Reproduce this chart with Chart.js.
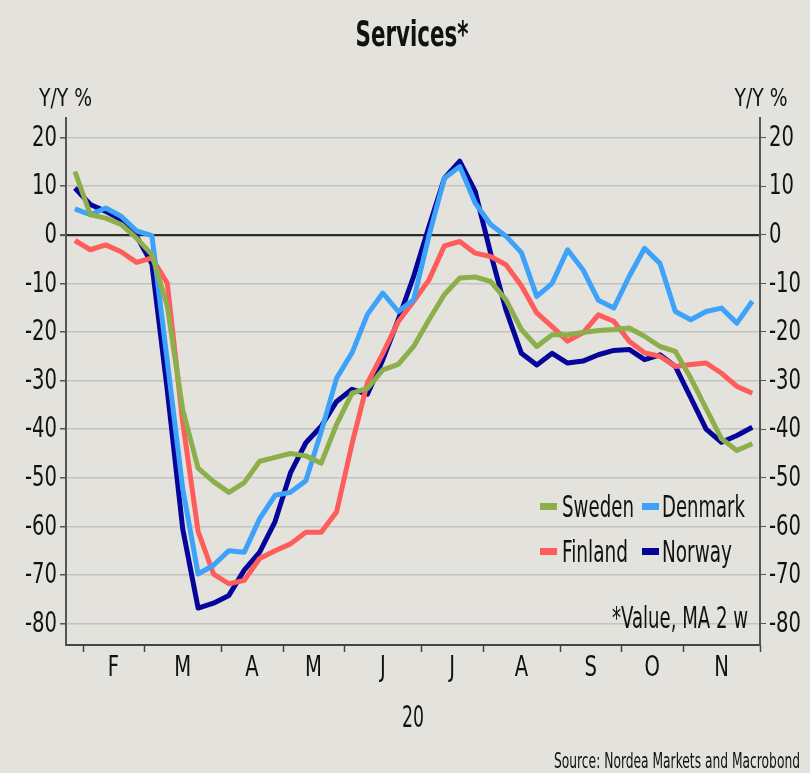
<!DOCTYPE html>
<html><head><meta charset="utf-8">
<script src="https://cdn.jsdelivr.net/npm/chart.js@4.4.1/dist/chart.umd.min.js"></script>
<style>html,body{margin:0;padding:0;background:#E3E2DD;}canvas{display:block}</style>
</head><body>
<canvas id="c" width="810" height="773"></canvas>
<script>
const FONT = "'Liberation Sans Narrow','DejaVu Sans Condensed','Roboto Condensed','Liberation Sans',sans-serif";

// x positions: week index (weekly data, late Jan 2020 .. late Nov 2020)
const monthLabels = ['F','M','A','M','J','J','A','S','O','N'];
const monthBounds = [0.5, 4.5, 9.5, 13.5, 17.5, 22.5, 26.5, 31.5, 35.5, 39.5, 44.5];
const yTicks = [20, 10, 0, -10, -20, -30, -40, -50, -60, -70, -80];

const sweden  = [13.0, 4.1, 3.4, 2.1, -0.7, -4.1, -14.7, -36.0, -48.0, -50.8, -53.0, -51.0, -46.6, -45.8, -45.0,
                 -45.5, -47.0, -39.0, -32.6, -31.6, -27.8, -26.7, -23.0, -17.5, -12.3, -8.9, -8.7, -9.6, -13.4, -19.5,
                 -23.0, -20.6, -20.6, -20.1, -19.7, -19.5, -19.2, -20.9, -23.0, -24.0, -29.5, -35.8, -42.0, -44.4, -43.0];
const denmark = [5.3, 4.1, 5.5, 3.8, 0.8, -0.2, -26.0, -52.2, -69.8, -68.0, -65.0, -65.3, -58.4, -53.6, -53.0,
                 -50.6, -40.5, -29.5, -24.3, -16.4, -12.0, -15.8, -13.4, -0.2, 11.6, 14.0, 6.5, 2.1, -0.3, -3.7,
                 -12.7, -10.0, -3.1, -7.2, -13.5, -15.1, -8.6, -2.8, -5.9, -15.8, -17.5, -15.8, -15.1, -18.2, -13.7];
const finland = [-1.2, -3.1, -2.1, -3.5, -5.7, -4.8, -10.0, -38.5, -61.0, -69.8, -71.8, -71.1, -66.6, -65.0, -63.6,
                 -61.2, -61.2, -57.0, -43.0, -30.5, -24.4, -17.9, -13.7, -9.3, -2.3, -1.4, -3.8, -4.5, -6.2, -10.5,
                 -16.1, -18.9, -21.9, -20.2, -16.5, -17.8, -21.9, -24.3, -25.0, -27.1, -26.7, -26.4, -28.5, -31.2, -32.6];
const norway  = [9.6, 6.2, 4.8, 3.1, -0.3, -6.0, -32.0, -60.5, -76.8, -75.8, -74.2, -69.0, -65.3, -59.0, -49.0,
                 -42.8, -39.4, -34.3, -31.8, -32.8, -25.7, -17.5, -8.6, 1.7, 11.6, 15.1, 8.9, -3.8, -15.5, -24.4,
                 -26.8, -24.4, -26.4, -26.0, -24.7, -23.8, -23.6, -25.7, -24.7, -27.1, -33.5, -40.0, -42.7, -41.3, -39.6];

const seriesNames = ['Sweden', 'Denmark', 'Finland', 'Norway'];
const seriesColors = ['#8CAF4B', '#3DA2FA', '#FF5C5C', '#05059A'];
const seriesData = [sweden, denmark, finland, norway];

const monthMids = monthLabels.map((m, k) => (monthBounds[k] + monthBounds[k + 1]) / 2);

function fitText(ctx, text, x, y, size, weight, width, align) {
  ctx.save();
  ctx.font = weight + ' ' + size + 'px ' + FONT;
  const w = ctx.measureText(text).width;
  ctx.translate(x, y);
  ctx.scale(width / w, 1);
  ctx.textAlign = align;
  ctx.textBaseline = 'alphabetic';
  ctx.fillStyle = '#111';
  ctx.fillText(text, 0, 0);
  ctx.restore();
}

function scaledText(ctx, text, x, y, size, sx, align, baseline) {
  ctx.save();
  ctx.font = 'normal ' + size + 'px ' + FONT;
  ctx.translate(x, y);
  ctx.scale(sx, 1);
  ctx.textAlign = align;
  ctx.textBaseline = baseline;
  ctx.fillStyle = '#111';
  ctx.fillText(text, 0, 0);
  ctx.restore();
}

const decor = {
  id: 'decor',
  beforeDraw(chart) {
    const ctx = chart.ctx;
    ctx.save();
    ctx.fillStyle = '#E3E2DD';
    ctx.fillRect(0, 0, chart.width, chart.height);
    ctx.restore();
  },
  afterDraw(chart) {
    const ctx = chart.ctx;
    const ca = chart.chartArea;
    const xs = chart.scales.x;
    // month boundary tick marks
    ctx.save();
    ctx.strokeStyle = '#444';
    ctx.lineWidth = 1.5;
    monthBounds.forEach(b => {
      const px = Math.round(xs.getPixelForValue(b)) + 0.5;
      ctx.beginPath();
      ctx.moveTo(px, ca.bottom);
      ctx.lineTo(px, ca.bottom + 7);
      ctx.stroke();
    });
    ctx.restore();

    // tick labels (condensed), positioned by the library's scales
    const TS = 28;
    ctx.save();
    ctx.font = 'normal ' + TS + 'px ' + FONT;
    const sx = 32 / ctx.measureText('-80').width;
    ctx.restore();
    const ys = chart.scales.y, ys2 = chart.scales.y2;
    ys.ticks.forEach((t, i) => {
      scaledText(ctx, String(t.value), ys.right - 9, ys.getPixelForTick(i) + 1, TS, sx, 'right', 'middle');
    });
    ys2.ticks.forEach((t, i) => {
      scaledText(ctx, String(t.value), ys2.left + 9, ys2.getPixelForTick(i) + 1, TS, sx, 'left', 'middle');
    });
    xs.ticks.forEach((t, i) => {
      scaledText(ctx, monthLabels[i], xs.getPixelForTick(i), 669, TS, sx, 'center', 'middle');
    });

    fitText(ctx, 'Services*', 412, 46, 36, 'bold', 113, 'center');
    fitText(ctx, 'Y/Y %', 65.5, 106, 25, 'normal', 53, 'center');
    fitText(ctx, 'Y/Y %', 761, 106, 25, 'normal', 53, 'center');
    fitText(ctx, '20', (ca.left + ca.right) / 2, 727, 30, 'normal', 22, 'center');
    fitText(ctx, 'Source: Nordea Markets and Macrobond', 800, 768, 21, 'normal', 246, 'right');
    fitText(ctx, '*Value, MA 2 w', 748, 628, 30, 'normal', 136, 'right');

    // legend
    const leg = [
      {i: 0, sx: 540, tx: 562, y: 517, w: 72},
      {i: 1, sx: 642, tx: 662, y: 517, w: 83},
      {i: 2, sx: 540, tx: 562, y: 562, w: 66},
      {i: 3, sx: 642, tx: 662, y: 562, w: 70}
    ];
    leg.forEach(l => {
      ctx.save();
      ctx.fillStyle = seriesColors[l.i];
      ctx.fillRect(l.sx, l.y - 14, 17, 7);
      ctx.restore();
      fitText(ctx, seriesNames[l.i], l.tx, l.y, 30, 'normal', l.w, 'left');
    });
  }
};

const datasets = seriesData.map((arr, s) => ({
  label: seriesNames[s],
  data: arr.map((v, i) => ({x: i, y: v})),
  borderColor: seriesColors[s],
  backgroundColor: seriesColors[s],
  borderWidth: 5,
  pointRadius: 0,
  tension: 0,
  borderJoinStyle: 'round',
  fill: false
}));

const yCommon = {
  type: 'linear',
  min: -84.4,
  max: 24,
  afterBuildTicks: s => { s.ticks = yTicks.map(v => ({value: v})); },
  ticks: {display: false, autoSkip: false},
  border: {display: true, color: '#555', width: 2}
};

new Chart(document.getElementById('c'), {
  type: 'line',
  data: {datasets},
  plugins: [decor],
  options: {
    responsive: false,
    animation: false,
    devicePixelRatio: 1,
    layout: {padding: {top: 118, left: 0, right: 0, bottom: 0}},
    plugins: {legend: {display: false}, tooltip: {enabled: false}, title: {display: false}},
    scales: {
      x: {
        type: 'linear',
        min: -0.58,
        max: 44.5,
        afterBuildTicks: s => { s.ticks = monthMids.map(v => ({value: v})); },
        ticks: {display: false, autoSkip: false, maxRotation: 0},
        grid: {display: true, drawOnChartArea: false, drawTicks: false},
        border: {display: true, color: '#444', width: 2},
        afterFit: s => { s.height = 128; }
      },
      y: Object.assign({}, yCommon, {
        position: 'left',
        grid: {
          color: c => (c.tick && c.tick.value === 0) ? '#2a2a2a' : '#C4C3BF',
          lineWidth: c => (c.tick && c.tick.value === 0) ? 2.2 : 1.5,
          tickColor: '#555', tickLength: 6, drawTicks: true
        },
        afterFit: s => { s.width = 66; }
      }),
      y2: Object.assign({}, yCommon, {
        position: 'right',
        grid: {drawOnChartArea: false, tickColor: '#555', tickLength: 6, drawTicks: true},
        afterFit: s => { s.width = 50; }
      })
    }
  }
});
</script>
</body></html>
